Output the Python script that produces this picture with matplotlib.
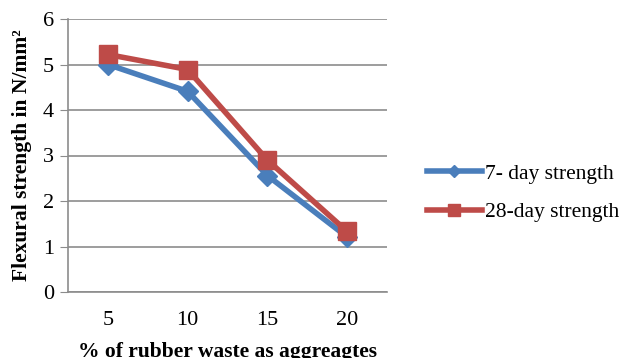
import matplotlib
matplotlib.use("Agg")
import matplotlib.pyplot as plt

categories = ["5", "10", "15", "20"]
day7 = [5.0, 4.41, 2.56, 1.21]
day28 = [5.22, 4.89, 2.90, 1.33]

plt.rcParams["font.family"] = ["Liberation Serif", "DejaVu Serif"]

fig = plt.figure(figsize=(6.2, 3.58), dpi=100)
ax = fig.add_axes([68 / 620, 1 - 292 / 358, (387 - 68) / 620, (292 - 19) / 358])

x = range(len(categories))
ax.plot(x, day7, color="#4a7ebb", lw=4, marker="D", ms=10, label="7- day strength")
ax.plot(x, day28, color="#be4b48", lw=4, marker="s", ms=13, label="28-day strength")

ax.set_xlim(-0.5, len(categories) - 0.5)
ax.set_ylim(0, 6)
ax.set_yticks(range(7))
ax.set_xticks(list(x))
ax.set_xticklabels(categories)
ax.grid(axis="y", color="#8c8c8c", lw=1.2)
ax.set_axisbelow(True)
for s in ["top", "right"]:
    ax.spines[s].set_visible(False)
for s in ["left", "bottom"]:
    ax.spines[s].set_color("#8c8c8c")
    ax.spines[s].set_linewidth(1.2)
ax.tick_params(axis="x", length=0, pad=14, labelsize=16)
ax.tick_params(axis="y", length=6, color="#8c8c8c", labelsize=16, pad=4)

ax.set_xlabel("% of rubber waste as aggreagtes", fontsize=15.5, fontweight="bold", labelpad=8)
ax.set_ylabel("Flexural strength in N/mm²", fontsize=15.5, fontweight="bold", labelpad=8)

leg = fig.legend(loc="center left", bbox_to_anchor=(427 / 620, 1 - 193 / 358), frameon=False,
                 fontsize=15.5, handlelength=2.55, labelspacing=0.85, handletextpad=0.14,
                 borderpad=0, borderaxespad=0)
sizes = [6, 9]
for line, s in zip(leg.get_lines(), sizes):
    line.set_markersize(s)

fig.savefig("out.png", dpi=100)
